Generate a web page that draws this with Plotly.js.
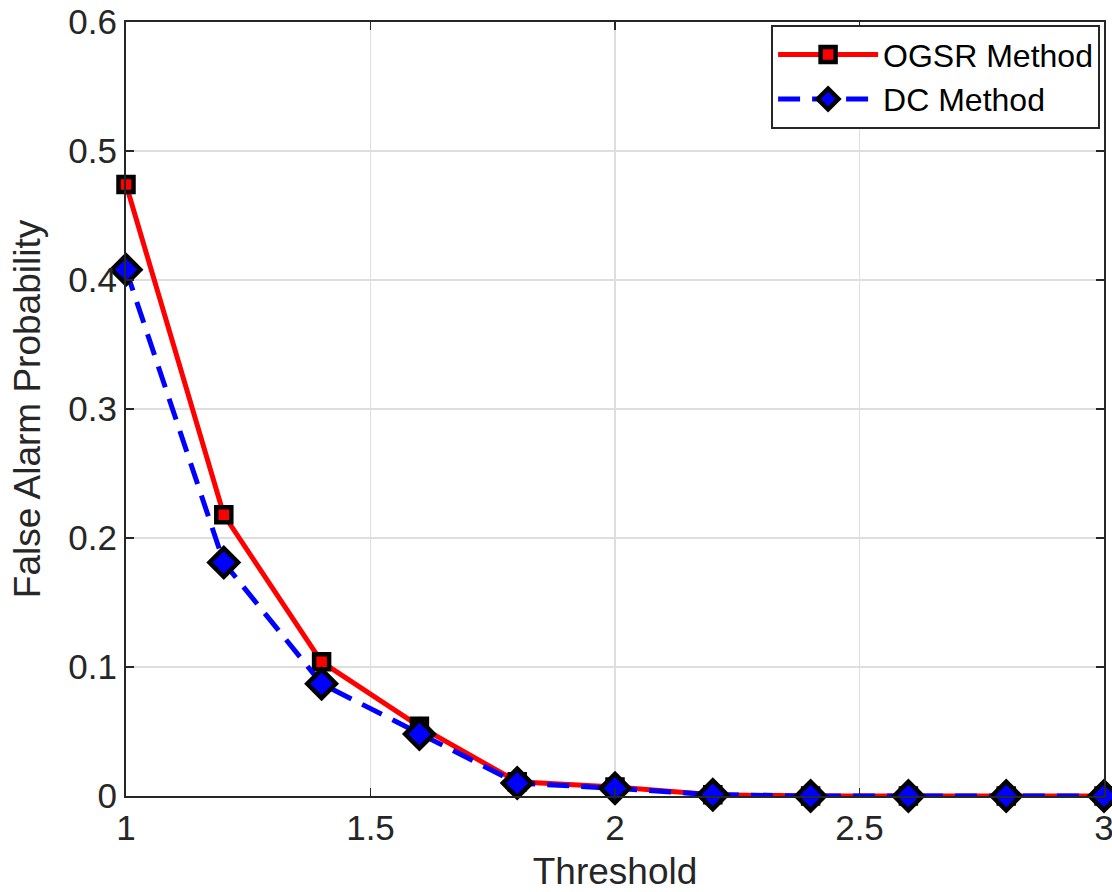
<!DOCTYPE html>
<html>
<head>
<meta charset="utf-8">
<script src="https://cdn.plot.ly/plotly-3.0.1.min.js"></script>
<style>html,body{margin:0;padding:0;background:#fff;}#chart{width:1112px;height:892px;}</style>
</head>
<body>
<div id="chart"></div>
<script>
const thresholds = [1, 1.2, 1.4, 1.6, 1.8, 2.0, 2.2, 2.4, 2.6, 2.8, 3.0];
const ogsrValues = [0.474, 0.218, 0.104, 0.054, 0.011, 0.007, 0.001, 0, 0, 0, 0];
const dcValues   = [0.408, 0.181, 0.087, 0.048, 0.010, 0.006, 0.001, 0, 0, 0, 0];
const xTickVals = [1, 1.5, 2, 2.5, 3];
const xTickText = ['1', '1.5', '2', '2.5', '3'];
const yTickVals = [0, 0.1, 0.2, 0.3, 0.4, 0.5, 0.6];
const yTickText = ['0', '0.1', '0.2', '0.3', '0.4', '0.5', '0.6'];

const traces = [
  {
    x: thresholds, y: ogsrValues, name: 'OGSR Method', type: 'scatter', mode: 'lines+markers',
    line: {color: '#ff0000', width: 5},
    marker: {symbol: 'square', size: 15, color: '#ff0000', line: {color: '#000000', width: 4.5}},
    cliponaxis: false
  },
  {
    x: thresholds, y: dcValues, name: 'DC Method', type: 'scatter', mode: 'lines+markers',
    line: {color: '#0000ff', width: 5, dash: '22px,12px'},
    marker: {symbol: 'diamond', size: 22, color: '#0000ff', line: {color: '#000000', width: 4.5}},
    cliponaxis: false
  }
];

const fam = 'Liberation Sans, Arial, Helvetica, sans-serif';
const axisFont = {family: fam, size: 35, color: '#262626'};
const layout = {
  width: 1112, height: 892,
  margin: {l: 126, r: 8, t: 22, b: 96},
  paper_bgcolor: '#ffffff', plot_bgcolor: '#ffffff',
  showlegend: true,
  legend: {
    x: 0.996, y: 0.996, xanchor: 'right', yanchor: 'top',
    bgcolor: '#ffffff', bordercolor: '#262626', borderwidth: 2,
    font: {family: fam, size: 32, color: '#000000'},
    tracegroupgap: 0, itemwidth: 100
  },
  xaxis: {
    range: [1, 3], tickmode: 'array', tickvals: xTickVals, ticktext: xTickText,
    showgrid: true, gridcolor: '#dedede', gridwidth: 1.5,
    showline: true, linecolor: '#262626', linewidth: 2, mirror: 'ticks',
    ticks: 'inside', ticklen: 8, tickcolor: '#262626', tickwidth: 1.5,
    zeroline: false, tickfont: axisFont, ticklabeloverflow: 'allow',
    title: {text: 'Threshold', font: {family: fam, size: 37, color: '#262626'}, standoff: 14}
  },
  yaxis: {
    range: [0, 0.6], tickmode: 'array', tickvals: yTickVals, ticktext: yTickText,
    showgrid: true, gridcolor: '#dedede', gridwidth: 1.5,
    showline: true, linecolor: '#262626', linewidth: 2, mirror: 'ticks',
    ticks: 'inside', ticklen: 8, tickcolor: '#262626', tickwidth: 1.5,
    zeroline: false, tickfont: axisFont, ticklabeloverflow: 'allow',
    title: {text: 'False Alarm Probability', font: {family: fam, size: 37, color: '#262626'}, standoff: 16}
  }
};

Plotly.newPlot('chart', traces, layout, {displayModeBar: false, staticPlot: true});
</script>
</body>
</html>
